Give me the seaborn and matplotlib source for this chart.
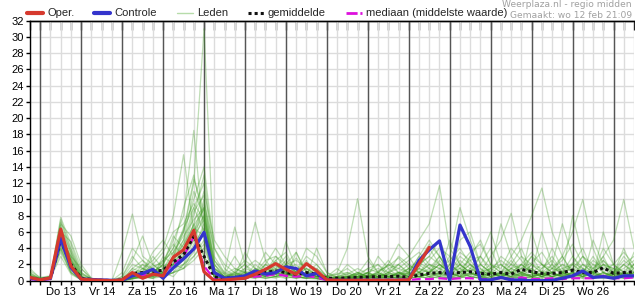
import numpy as np
import pandas as pd
import matplotlib
matplotlib.use("Agg")
import matplotlib.pyplot as plt
import matplotlib.dates as mdates
from matplotlib.lines import Line2D
import seaborn as sns

# ---------------- data (6-hourly, from 12 feb 18:00) ----------------
times = pd.date_range("2025-02-12 18:00", periods=60, freq="6h")
day_labels = ["Do 13", "Vr 14", "Za 15", "Zo 16", "Ma 17", "Di 18", "Wo 19",
              "Do 20", "Vr 21", "Za 22", "Zo 23", "Ma 24", "Di 25", "Wo 26"]

oper = [0.4, 0.1, 0.35, 6.35, 1.8, 0.2, 0.1, 0.05, 0.0, 0.1,
        1.0, 0.3, 0.8, 0.6, 2.9, 3.8, 6.2, 1.1, 0.0, 0.1,
        0.2, 0.3, 0.8, 1.4, 2.1, 1.4, 0.8, 2.1, 1.2, 0.1,
        0.05, 0.05, 0.05, 0.05, 0.05, 0.05, 0.05, 0.1, 2.1, 4.1]

controle = [0.3, 0.1, 0.3, 5.2, 1.6, 0.2, 0.15, 0.1, 0.05, 0.05,
            0.6, 0.9, 1.4, 0.3, 1.6, 2.7, 3.9, 5.95, 1.0, 0.3,
            0.4, 0.6, 1.2, 0.8, 1.0, 1.7, 1.5, 0.6, 0.9, 0.1,
            0.05, 0.05, 0.05, 0.05, 0.05, 0.05, 0.05, 0.1, 2.5, 3.8,
            4.9, 0.0, 6.85, 4.2, 0.1, 0.1, 0.4, 0.1, 0.1, 0.0,
            0.0, 0.05, 0.3, 0.6, 1.2, 0.4, 0.5, 0.3, 0.6, 0.6]

gemiddelde = [0.3, 0.1, 0.3, 5.0, 2.0, 0.3, 0.15, 0.05, 0.03, 0.1,
              0.9, 1.0, 1.1, 1.3, 2.3, 3.2, 5.5, 3.0, 0.5, 0.3,
              0.4, 0.6, 0.8, 1.0, 1.2, 1.0, 0.8, 1.0, 0.8, 0.3,
              0.3, 0.35, 0.4, 0.45, 0.5, 0.5, 0.55, 0.4, 0.7, 0.9,
              1.0, 0.9, 1.0, 1.1, 0.9, 0.8, 1.0, 0.8, 1.4, 1.1,
              0.9, 0.9, 1.0, 1.3, 1.0, 1.0, 1.6, 0.9, 1.0, 1.1]

mediaan = [0.2, 0.05, 0.2, 4.8, 1.8, 0.2, 0.0, 0.0, 0.0, 0.0,
           0.6, 0.7, 0.8, 1.0, 2.0, 3.0, 5.4, 1.8, 0.2, 0.1,
           0.2, 0.3, 0.5, 0.6, 0.8, 0.6, 0.5, 0.6, 0.4, 0.05,
           0.05, 0.05, 0.1, 0.1, 0.1, 0.1, 0.15, 0.1, 0.2, 0.2,
           0.3, 0.2, 0.3, 0.3, 0.2, 0.2, 0.3, 0.2, 0.4, 0.2,
           0.2, 0.3, 0.2, 0.3, 0.3, 0.3, 0.6, 0.3, 0.3, 0.4]

leden = [
    [0.5,0.1,0.3,5.5,2.5,0.3,0,0,0,0, 0.5,1.0,0.8,1.5,3.0,6.0,12.0,31.0,2.0,0.3,
     0.5,1.0,0.8,1.2,2.0,1.0,0.5,1.0,0.5,0.1, 0.2,0.3,0.5,0.3,0.8,0.5,1.0,0.5,1.0,2.0,
     1.0,0.5,2.0,1.0,0.5,1.5,0.8,0.5,2.0,1.0, 0.5,1.0,2.0,1.5,0.5,1.0,3.0,0.5,1.0,0.8],
    [0.3,0.2,0.5,6.5,3.5,0.5,0.1,0,0,0.2, 1.5,2.5,1.0,2.0,5.0,8.0,18.5,5.0,0.5,0.2,
     0.3,0.5,1.5,0.8,0.5,1.5,2.0,0.5,0.3,0, 0.1,0.5,1.0,0.5,0.3,1.5,2.0,1.0,3.0,1.5,
     0.5,2.0,1.0,3.0,1.5,0.5,1.0,2.5,0.8,0.5, 1.5,3.0,1.0,0.5,2.0,1.0,0.5,1.5,0.8,2.0],
    [1.5,0.3,0.4,4.5,1.5,0.2,0,0,0,0.5, 3.0,1.5,2.5,4.0,8.0,15.5,6.0,3.0,1.0,0.5,
     1.0,2.0,0.5,1.0,3.0,1.5,0.8,1.5,0.5,0.2, 0.3,0.1,0.5,1.0,2.0,0.5,0.8,1.5,0.5,0.3,
     1.0,3.0,1.5,0.5,2.0,4.0,1.0,0.5,1.5,3.0, 1.0,0.5,0.8,2.0,4.0,1.0,0.5,0.3,1.0,0.5],
    [0.5,0.1,0.3,7.5,4.0,1.0,0.2,0,0,3.5, 8.2,3.0,2.0,1.0,2.0,3.0,6.0,10.0,1.5,0.5,
     0.5,1.0,0.5,2.0,1.5,0.8,0.5,0.3,1.0,0.5, 0.1,0.3,0.8,0.5,1.0,2.5,1.0,0.5,2.0,3.0,
     5.0,2.0,1.0,0.5,0.3,0.8,2.0,1.0,0.5,1.5, 0.5,1.0,3.0,0.8,0.5,1.0,2.0,1.5,0.5,1.0],
    [0.8,0.2,0.3,4.0,1.0,0.1,0,0,0,0, 0.5,1.0,1.5,0.5,1.5,2.5,5.0,8.0,0.8,0.2,
     1.0,2.0,7.2,2.5,1.0,0.5,0.3,1.0,2.0,0.5, 1.0,4.0,10.1,3.0,1.0,0.5,0.3,0.8,1.5,1.0,
     2.0,1.0,0.5,1.5,3.0,1.0,0.5,0.8,0.3,0.5, 1.0,2.0,0.5,1.0,3.0,1.5,0.5,0.8,2.0,1.0],
    [0.3,0.1,0.4,6.0,2.0,0.3,0,0,0,0, 1.0,0.5,0.8,1.0,2.5,4.0,8.0,13.0,3.0,1.0,
     6.6,2.0,1.0,0.5,1.5,3.0,1.0,0.5,0.3,0, 0.5,0.3,0.5,1.0,1.5,1.0,2.0,3.0,5.0,7.0,
     11.7,4.0,2.0,1.0,0.5,0.3,1.0,2.0,1.5,0.5, 0.8,1.0,0.5,2.0,1.0,0.5,0.8,1.0,0.5,1.0],
    [0.2,0.1,0.3,7.0,5.5,2.0,0.3,0,0,0, 0.3,0.8,0.5,1.5,3.5,6.0,10.0,14.0,4.0,1.5,
     0.5,0.3,1.0,3.5,2.0,1.0,0.5,2.0,1.0,0.3, 0.2,0.5,1.0,0.5,0.3,0.8,1.0,0.5,1.0,2.0,
     1.5,1.0,3.0,2.0,1.0,0.5,1.0,3.0,5.0,8.0, 11.4,6.0,3.0,1.0,0.5,1.0,2.0,1.0,3.0,1.5],
    [0.6,0.3,0.5,5.0,2.0,0.2,0,0,0,0.3, 2.0,1.5,1.0,2.0,4.0,9.0,13.0,7.0,2.0,0.5,
     1.0,0.5,2.0,1.0,0.8,2.0,3.5,1.0,0.5,0.2, 0.3,0.5,0.2,1.0,0.5,0.3,1.0,2.0,1.0,2.5,
     4.0,3.0,9.0,5.0,2.0,1.0,0.5,1.0,2.0,1.0, 0.5,1.5,3.0,6.0,10.0,4.0,1.0,0.5,1.0,0.8],
    [1.0,0.2,0.4,3.5,1.0,0.1,0,0,0,0, 0.3,0.5,0.3,1.0,2.0,3.5,7.0,11.0,5.0,3.0,
     1.5,1.0,0.5,0.8,1.0,2.5,1.0,4.0,3.0,1.0, 0.5,1.0,0.5,0.3,0.5,2.0,1.5,1.0,0.5,1.0,
     2.0,1.0,0.5,1.5,1.0,3.0,5.0,8.3,3.0,1.0, 0.5,1.0,2.0,1.0,0.5,1.5,3.0,5.0,10.0,4.0],
    [0.4,0.1,0.3,5.0,3.0,1.5,0.3,0,0,0, 0.8,1.2,3.5,5.0,3.0,5.0,9.0,12.0,2.0,0.8,
     0.5,1.5,1.0,2.0,4.0,2.0,1.0,0.5,0.8,0.3, 0.1,0.2,0.5,1.0,0.5,1.0,3.0,2.0,1.0,0.5,
     1.0,5.0,2.0,1.0,3.0,6.0,2.0,1.0,0.5,2.0, 1.0,0.5,1.0,3.0,1.0,0.5,1.0,2.0,1.0,0.5],
    [0.2,0.1,0.3,4.5,1.5,0.2,0,0,0,0, 0.5,2.0,1.0,0.5,1.0,3.0,6.0,9.0,1.0,0.3,
     0.8,0.5,1.5,1.0,0.5,4.8,1.5,0.5,1.0,0.2, 0.5,2.0,1.0,0.5,0.3,1.0,0.5,0.3,1.5,4.0,
     2.0,1.0,0.5,3.0,5.0,2.0,1.0,0.5,1.0,3.0, 2.0,1.0,0.5,1.0,2.0,1.0,4.0,2.0,1.0,0.5],
    [0.3,0.2,0.5,6.0,2.5,0.5,0,0,0,0, 1.5,1.0,0.5,3.0,2.0,1.5,4.0,6.0,0.5,0.1,
     0.3,0.5,1.0,0.5,1.0,2.0,1.0,3.0,2.0,0.5, 0.1,0.5,0.3,0.8,0.5,0.3,1.0,0.5,0.3,1.0,
     3.0,1.0,2.0,1.0,0.5,1.0,3.0,2.0,1.0,1.5, 0.5,2.0,7.0,3.0,1.5,0.8,0.5,1.0,2.0,1.0],
    [0.5,0.3,0.5,7.8,4.5,1.0,0.2,0,0,0, 0.3,0.5,1.0,0.5,1.5,2.5,4.0,7.0,1.0,0.5,
     0.3,0.8,0.5,1.5,0.8,1.0,0.5,1.0,0.8,0.3, 0.5,0.3,0.8,2.5,1.0,0.5,0.3,0.5,2.0,1.0,
     0.5,0.3,1.0,2.0,1.0,0.5,1.0,0.3,0.5,6.0, 2.0,1.0,0.5,8.0,3.0,1.0,0.5,0.3,0.5,1.0],
    [0.3,0.1,0.3,3.0,0.8,0.1,0,0,0,0, 0.2,0.5,0.3,1.0,1.5,2.0,3.0,5.0,0.5,0.2,
     0.5,0.3,0.5,0.8,1.0,0.5,0.3,0.5,0.3,0.1, 0.2,0.3,0.5,0.3,0.5,0.8,0.5,0.3,0.5,0.8,
     1.0,0.5,0.3,0.8,0.5,1.0,0.5,0.3,0.8,0.5, 0.3,0.5,0.8,0.5,0.3,0.5,1.0,0.5,0.3,0.5],
    [0.6,0.2,0.4,5.5,3.0,0.5,0.1,0,0,0.5, 2.5,5.5,2.0,1.0,2.0,4.0,7.0,3.0,0.5,0.3,
     0.5,3.5,1.5,0.5,1.0,1.5,0.5,0.3,0.5,0.5, 1.5,0.5,0.3,0.5,3.0,1.5,0.5,0.3,0.5,1.0,
     2.0,1.0,5.0,6.0,2.0,1.0,0.5,2.0,4.0,1.0, 0.5,1.0,0.5,1.0,0.5,2.0,1.0,0.5,2.0,3.0],
    [0.4,0.1,0.3,6.5,2.0,0.3,0,0,0,0, 0.5,1.0,3.0,1.5,2.5,5.0,11.0,8.0,2.5,1.0,
     0.5,0.3,0.8,0.5,0.3,0.8,1.5,0.8,0.5,0.2, 0.3,0.5,0.3,0.5,1.0,2.0,4.5,3.0,1.0,0.5,
     0.8,1.5,0.5,0.3,1.0,1.5,7.0,3.0,1.0,0.5, 1.0,4.0,1.5,0.5,1.0,3.0,1.0,0.5,0.3,0.5],
    [0.3,0.1,0.2,4.0,1.2,0.2,0,0,0,0, 0.3,0.5,0.8,2.5,4.5,3.0,5.0,9.5,4.0,2.0,
     1.0,0.5,0.3,1.0,1.5,0.8,0.5,0.3,0.5,0.5, 0.8,1.5,0.5,0.3,0.5,0.3,0.5,1.0,3.0,5.0,
     3.0,1.0,0.5,1.0,0.5,0.3,0.5,1.0,0.5,0.3, 0.5,1.0,0.3,0.5,0.8,0.5,6.0,2.0,0.5,1.0],
    [0.2,0.2,0.3,5.0,1.8,0.3,0,0,0,0, 0.5,0.3,1.5,0.8,1.0,2.0,3.5,6.0,0.3,0.1,
     0.3,0.5,0.3,0.5,0.8,0.3,3.5,1.0,0.3,0.1, 0.1,0.2,0.3,0.5,0.3,0.5,0.3,0.5,0.8,1.5,
     3.0,0.8,0.5,0.3,0.5,1.0,0.5,0.3,1.0,0.5, 0.8,0.5,1.0,0.5,1.5,0.5,0.3,0.8,4.0,1.0],
    [0.7,0.3,0.4,6.8,3.5,0.8,0.2,0,0,0, 0.5,0.3,0.5,1.0,3.0,6.5,9.0,6.0,1.5,0.8,
     3.0,1.0,0.5,0.3,0.5,1.0,0.8,0.5,4.0,1.0, 0.3,0.5,1.0,0.5,0.3,0.5,0.8,1.5,1.0,0.5,
     0.3,0.5,1.0,2.0,0.5,0.3,0.5,1.0,2.0,1.0, 6.0,2.0,1.0,0.5,0.8,1.0,0.5,1.0,0.5,0.3],
    [0.3,0.1,0.3,4.8,2.2,0.5,0,0,0,0, 0.8,0.5,0.3,0.5,1.0,1.5,2.5,4.0,0.8,0.3,
     0.5,0.8,0.5,2.0,1.0,0.5,0.8,1.5,0.8,0.3, 0.5,0.8,0.3,0.5,0.3,0.5,0.3,1.0,0.5,0.3,
     0.5,2.0,1.0,0.5,0.3,0.8,0.5,0.3,0.5,0.8, 0.5,0.3,0.5,0.8,0.3,5.0,2.0,0.5,0.8,0.5],
    [0.4,0.2,0.4,5.8,2.8,0.4,0,0,0,0, 0.3,1.5,0.8,2.0,5.5,4.0,6.0,8.0,0.5,0.2,
     0.5,0.3,1.0,0.5,2.5,1.0,0.5,0.3,0.3,0.1, 0.3,0.2,0.3,0.5,0.8,0.5,0.3,0.5,0.8,0.5,
     1.5,0.5,0.3,1.0,2.0,1.0,0.5,1.5,0.8,0.3, 1.0,0.5,0.8,1.0,0.5,0.3,0.5,1.0,0.3,2.0],
    [1.2,0.4,0.6,3.8,1.0,0.2,0,0,0,0, 0.5,0.8,1.5,1.0,0.5,2.0,4.5,6.5,1.0,0.5,
     0.3,0.5,0.8,0.3,0.5,0.8,0.3,0.5,1.0,0.3, 0.5,0.3,0.5,1.0,0.5,0.8,2.0,0.8,0.5,1.0,
     0.8,0.3,0.5,0.8,1.5,0.5,0.3,0.5,1.0,0.5, 0.3,0.8,0.5,0.3,0.5,0.8,0.5,0.3,0.5,3.5],
    [0.3,0.1,0.3,4.2,1.5,0.2,0,0,0,0, 0.3,0.3,0.5,0.5,1.0,1.5,3.0,4.5,0.5,0.1,
     0.2,0.3,0.5,0.3,0.5,0.3,0.5,0.3,0.2,0.1, 0.1,0.2,0.3,0.2,0.3,0.2,0.5,0.3,0.5,0.8,
     0.5,0.3,0.8,0.5,0.3,0.5,0.8,0.5,0.3,0.5, 0.8,0.5,0.3,0.5,0.8,0.5,0.3,0.5,0.8,0.5],
    [0.2,0.1,0.2,5.2,2.5,0.3,0,0,0,0, 1.0,0.8,0.5,1.0,2.0,3.0,5.5,7.5,1.5,0.5,
     0.8,1.0,0.5,0.8,0.5,0.8,0.5,1.0,0.5,0.2, 0.3,0.5,0.8,0.5,1.0,0.5,1.0,0.8,0.5,0.3,
     0.5,0.8,1.5,1.0,0.5,0.8,1.0,0.5,0.8,2.0, 1.0,0.5,1.0,0.5,1.0,0.5,1.0,0.8,0.5,0.8],
    [0.5,0.2,0.4,6.2,3.2,0.6,0.1,0,0,0.2, 1.2,2.0,1.5,2.5,3.5,5.5,7.5,9.0,2.5,0.8,
     1.5,1.0,0.8,1.2,2.5,3.5,1.0,0.8,1.5,0.5, 0.8,1.0,0.5,1.5,2.0,1.0,1.5,2.5,3.5,2.0,
     1.5,2.5,4.0,2.0,1.0,1.5,2.5,1.5,3.0,2.0, 1.5,2.5,1.0,1.5,3.0,2.0,1.5,1.0,2.5,1.5],
    [0.9,0.3,0.5,5.6,2.7,0.4,0,0,0,1.0, 4.0,2.5,1.5,0.8,2.5,4.5,8.5,10.5,1.5,0.5,
     0.8,1.5,2.5,1.5,1.0,2.0,2.5,1.5,0.8,0.3, 0.5,0.8,1.5,0.8,0.5,1.0,0.5,1.5,2.5,4.5,
     3.0,1.5,3.5,2.5,1.0,2.0,1.5,4.0,2.5,1.0, 2.0,1.5,2.5,4.5,2.0,1.5,2.5,1.0,1.5,2.5],
    [0.4,0.1,0.3,7.2,3.8,0.8,0.2,0,0,0, 0.5,1.0,2.0,3.5,6.0,7.0,9.5,7.5,1.0,0.4,
     0.5,0.8,1.0,2.5,3.0,2.0,1.0,2.0,1.5,0.5, 0.3,0.5,0.8,1.5,1.0,2.0,1.0,0.8,1.5,1.0,
     2.5,1.0,2.0,3.5,4.5,2.0,1.0,1.5,2.0,3.5, 2.0,1.0,1.5,2.0,1.0,2.5,1.5,2.0,3.5,2.0],
    [0.6,0.2,0.3,4.6,1.8,0.3,0,0,0,0, 0.8,1.5,1.2,1.8,2.2,3.8,6.5,5.5,1.2,0.6,
     1.2,2.5,1.5,0.8,1.8,1.2,2.8,1.2,0.6,0.2, 0.2,0.4,0.6,0.4,1.2,1.8,2.8,1.5,2.0,3.0,
     2.0,1.2,1.5,2.5,3.0,1.5,2.0,1.0,1.5,2.2, 3.5,1.5,1.0,2.2,1.5,1.0,2.0,1.5,1.2,2.0],
    [0.3,0.1,0.2,5.4,2.0,0.2,0,0,0,0, 0.2,0.6,0.8,1.2,2.8,4.5,6.8,8.8,0.6,0.2,
     0.4,0.6,0.6,1.0,0.8,1.2,0.6,0.8,0.6,0.2, 0.2,0.3,0.4,0.6,0.4,0.6,0.8,0.6,1.0,1.2,
     0.8,0.6,1.2,0.8,0.6,1.0,0.8,1.2,0.6,0.8, 1.2,0.8,0.6,1.0,0.8,1.2,0.6,0.8,1.0,0.6],
    [0.5,0.2,0.4,6.0,4.8,1.5,0.2,0,0,0, 0.6,0.8,1.8,2.2,4.0,6.2,12.5,8.5,1.2,0.3,
     0.6,1.2,0.8,1.5,1.2,0.6,1.0,2.5,0.8,0.2, 0.4,0.6,0.3,0.6,0.8,0.4,0.6,1.2,2.2,1.5,
     1.0,0.8,2.5,1.5,0.8,1.2,0.6,1.5,1.0,0.6, 0.8,1.5,1.2,0.6,1.2,0.8,2.5,1.2,0.6,1.5],
]

# ---------------- tables ----------------
members_df = pd.DataFrame(
    [(i, t, v) for i, m in enumerate(leden) for t, v in zip(times, m)],
    columns=["lid", "tijd", "neerslag"])
oper_df = pd.DataFrame({"tijd": times[:len(oper)], "neerslag": oper})
ctrl_df = pd.DataFrame({"tijd": times, "neerslag": controle})
mean_df = pd.DataFrame({"tijd": times, "neerslag": gemiddelde})
med_df = pd.DataFrame({"tijd": times, "neerslag": mediaan})

# ---------------- style ----------------
sns.set_theme(style="white")
plt.rcParams["font.family"] = ["Liberation Sans", "DejaVu Sans"]
FS = 8.0

RED = "#d6392e"
BLUE = "#3434cc"
GREEN = "#3f9b22"
MAGENTA = "#dd10dd"

fig = plt.figure(figsize=(6.35, 3.0), dpi=100)
ax = fig.add_axes([30 / 635, 19.3 / 300, 604 / 635, 260 / 300])

sns.lineplot(data=members_df, x="tijd", y="neerslag", units="lid",
             estimator=None, color=GREEN, alpha=0.33, lw=0.9,
             legend=False, ax=ax, zorder=3)
sns.lineplot(data=med_df, x="tijd", y="neerslag", color=MAGENTA, lw=1.6,
             ax=ax, zorder=4).lines[-1].set_dashes([4, 2])
sns.lineplot(data=mean_df, x="tijd", y="neerslag", color="#111111", lw=2.2,
             ax=ax, zorder=5).lines[-1].set_dashes([1, 1])
sns.lineplot(data=ctrl_df, x="tijd", y="neerslag", color=BLUE, lw=2.3,
             ax=ax, zorder=6)
sns.lineplot(data=oper_df, x="tijd", y="neerslag", color=RED, lw=2.3,
             ax=ax, zorder=7)

# ---------------- axes ----------------
ax.set_xlim(times[0], times[-1])
ax.set_ylim(0, 32)
ax.set_yticks(np.arange(0, 33, 2))
ax.set_xticks(times)
xlabels = []
for t in times:
    if t.hour == 12:
        idx = (t.normalize() - pd.Timestamp("2025-02-13")).days
        xlabels.append(day_labels[idx] if 0 <= idx < len(day_labels) else "")
    else:
        xlabels.append("")
ax.set_xticklabels(xlabels)
ax.set_xlabel("")
ax.set_ylabel("")
ax.grid(True, color="#dcdcdc", lw=1)
ax.set_axisbelow(True)
for t in times:
    if t.hour == 0:
        ax.axvline(t, color="#555555", lw=1, zorder=1.5)

ax.tick_params(axis="x", direction="out", length=3, width=1, color="black",
               pad=1.5, labelsize=FS, labelcolor="black", bottom=True)
ax.tick_params(axis="y", direction="out", length=3, width=1, color="black",
               pad=1.5, labelsize=FS, labelcolor="black", left=True)

sec = ax.secondary_xaxis("top")
sec.set_xticks(mdates.date2num(times))
sec.tick_params(direction="in", length=6.5, width=1, color="#222222",
                labeltop=False)
sec.spines["top"].set_color("black")
sec.spines["top"].set_linewidth(1)

for side in ["left", "bottom", "top"]:
    ax.spines[side].set_color("black")
    ax.spines[side].set_linewidth(1)
ax.spines["right"].set_visible(False)

# ---------------- legend & header ----------------
handles = [
    Line2D([], [], color=RED, lw=3),
    Line2D([], [], color=BLUE, lw=3),
    Line2D([], [], color="#b7dcaa", lw=1),
    Line2D([], [], color="#111111", lw=2.2, dashes=[1, 1]),
    Line2D([], [], color=MAGENTA, lw=2, dashes=[4, 1]),
]
labels = ["Oper.", "Controle", "Leden", "gemiddelde",
          "mediaan (middelste waarde)"]
fig.legend(handles, labels, loc="center left",
           bbox_to_anchor=(27 / 635, 1 - 13.5 / 300), ncol=5, frameon=False,
           handlelength=1.45, handletextpad=0.35, columnspacing=1.8,
           borderpad=0, borderaxespad=0, fontsize=FS)

fig.text(632 / 635, 1 - 4.5 / 300, "Weerplaza.nl - regio midden",
         ha="right", va="center", color="#a0a0a0", fontsize=6.6,
         family="DejaVu Sans")
fig.text(632 / 635, 1 - 15 / 300, "Gemaakt: wo 12 feb 21:09",
         ha="right", va="center", color="#a0a0a0", fontsize=6.6,
         family="DejaVu Sans")

fig.savefig("out.png", dpi=100)
